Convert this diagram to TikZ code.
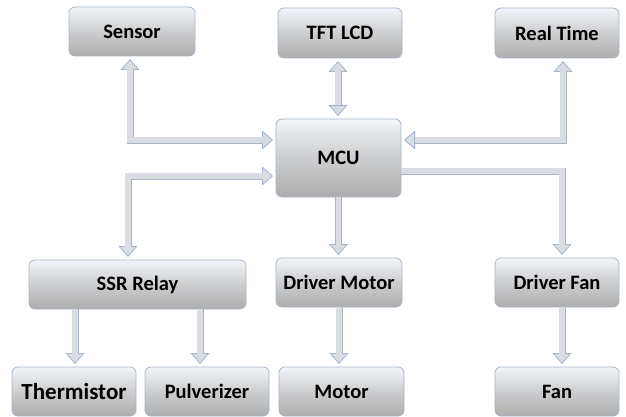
\documentclass[tikz,border=0pt]{standalone}
\usepackage{fontspec}
\setmainfont{Carlito}
\usetikzlibrary{arrows.meta}

\definecolor{boxtop}{HTML}{F2F5F9}
\definecolor{boxbot}{HTML}{ADADAD}
\definecolor{edgec}{HTML}{A6B6CA}
\definecolor{arrc}{HTML}{D9DDE2}

\tikzset{
  blk/.tip={Triangle[width=19pt,length=11pt,line width=0.8pt,fill=arrc]},
  unit/.style={draw=edgec, line width=0.8pt, rounded corners=6pt,
    top color=boxtop, bottom color=boxbot, middle color=boxtop!45!boxbot,
    minimum width=124pt, minimum height=49pt, outer sep=3pt,
    font=\fontsize{20.5}{24}\selectfont\bfseries},
  pipe/.style={draw=edgec, line width=7pt},
  core/.style={draw=arrc, line width=5.4pt},
  both/.style={blk-blk},
  both core/.style={shorten <=10.5pt, shorten >=10.5pt},
  end/.style={-blk, shorten <=-3pt},
  end core/.style={shorten <=-3pt, shorten >=10.5pt},
}
\newcommand{\link}[2]{%
  \draw[pipe,#1] #2;
  \draw[core,#1 core] #2;}

\begin{document}
\begin{tikzpicture}[x=1pt,y=-1pt]
\useasboundingbox (0,0) rectangle (626,417);
% top row
\node[unit, minimum width=126pt] (sensor) at (132,31.5) {Sensor};
\node[unit, minimum height=50pt] (tft) at (340,33) {TFT LCD};
\node[unit, minimum height=50pt] (rtc) at (557,33) {Real Time};
% controller
\node[unit, minimum width=125pt, minimum height=78pt] (mcu) at (338.5,158) {MCU};
% drivers
\node[unit, minimum width=217pt] (ssr) at (137.5,284.5) {SSR Relay};
\node[unit, minimum width=126pt] (drvm) at (339,282.5) {Driver Motor};
\node[unit] (drvf) at (557,282.5) {Driver Fan};
% loads
\node[unit, font=\fontsize{23}{26}\selectfont\bfseries] (therm) at (74,391.5) {Thermistor};
\node[unit] (pulv) at (207,391.5) {Pulverizer};
\node[unit, minimum width=125pt] (motor) at (341.5,391.5) {Motor};
\node[unit] (fan) at (557,391.5) {Fan};
% connectors
\link{both}{([xshift=-2pt]sensor.south) |- ([yshift=18pt]mcu.west)}
\link{both}{([xshift=-9.5pt]ssr.north) |- ([yshift=-18pt]mcu.west)}
\link{both}{([xshift=-2pt]tft.south) -- ([xshift=-2pt]tft.south |- mcu.north)}
\link{both}{([xshift=6pt]rtc.south) |- ([yshift=18pt]mcu.east)}
\link{end}{([yshift=-13pt]mcu.east) -| ([xshift=5pt]drvf.north)}
\link{end}{(mcu.south) -- (mcu.south |- drvm.north)}
\link{end}{([xshift=1pt]therm.north |- ssr.south) -- ([xshift=1pt]therm.north)}
\link{end}{([xshift=-7pt]pulv.north |- ssr.south) -- ([xshift=-7pt]pulv.north)}
\link{end}{(drvm.south) -- (drvm.south |- motor.north)}
\link{end}{([xshift=5pt]drvf.south) -- ([xshift=5pt]fan.north)}
\end{tikzpicture}
\end{document}
